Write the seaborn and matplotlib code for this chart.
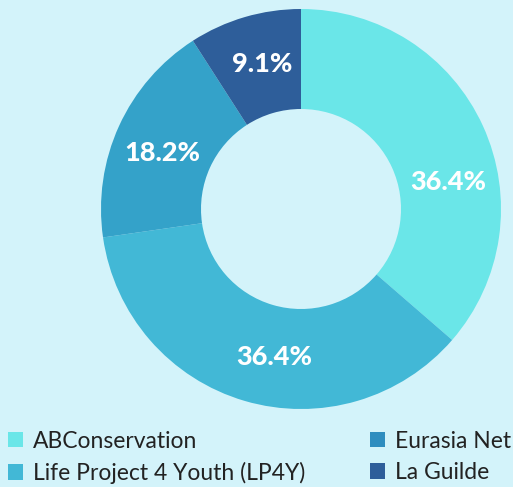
import numpy as np
import matplotlib
matplotlib.use("Agg")
import matplotlib.pyplot as plt
from matplotlib.patches import Patch
import seaborn as sns

# data
labels = ["ABConservation", "Life Project 4 Youth (LP4Y)", "Eurasia Net", "La Guilde"]
counts = [4, 4, 2, 1]
colors = ["#6ae6e8", "#42b8d6", "#34a2c9", "#2e5e9a"]
legend_colors = ["#6ae6e8", "#42b8d6", "#2e8dbf", "#2e5e9a"]
bg = "#d3f3fa"
# small nudges so the % labels sit where the original puts them
label_shift_deg = [-14, 6, 2.5, -1.5]

sns.set_style("white")
plt.rcParams["font.family"] = ["Lato", "DejaVu Sans"]

fig = plt.figure(figsize=(5.13, 4.87), dpi=100)
fig.patch.set_facecolor(bg)
ax = fig.add_axes([101 / 513, 78 / 487, 400 / 513, 400 / 487])
ax.set_facecolor(bg)

pal = sns.color_palette(colors)
wedges, _ = ax.pie(counts, colors=pal, startangle=90, counterclock=False,
                   radius=1, wedgeprops=dict(width=0.5, linewidth=0))

total = sum(counts)
for w, c, sh in zip(wedges, counts, label_shift_deg):
    mid = np.deg2rad((w.theta1 + w.theta2) / 2 + sh)
    ax.text(0.75 * np.cos(mid), 0.75 * np.sin(mid), f"{c / total * 100:.1f}%",
            ha="center", va="center", color="white", fontsize=19.5, fontweight="black")

ax.set_xlim(-1, 1)
ax.set_ylim(-1, 1)
ax.set_aspect("equal")
ax.axis("off")

handles = [Patch(facecolor=c, edgecolor="none") for c in legend_colors]
fig.legend(handles, labels, loc="lower left", bbox_to_anchor=(8 / 513, 3 / 487, 503 / 513, 0.15),
           mode="expand", ncol=2, frameon=False, fontsize=16.5, handlelength=0.65,
           handleheight=0.65, handletextpad=0.45, labelspacing=0.45, borderaxespad=0,
           borderpad=0, labelcolor="#222222")

fig.savefig("out.png", dpi=100, facecolor=bg)
